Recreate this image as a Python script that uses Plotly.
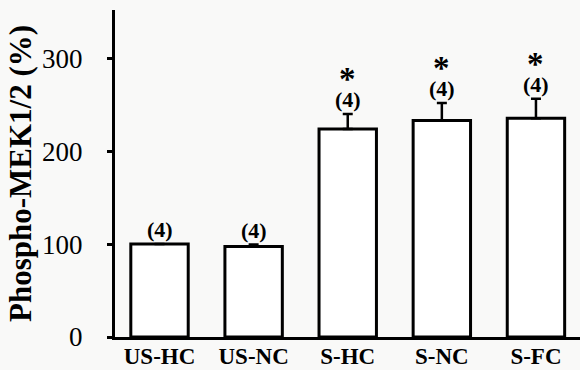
import plotly.graph_objects as go

categories = ["US-HC", "US-NC", "S-HC", "S-NC", "S-FC"]
values = [100, 97.5, 224, 233, 235.5]
errors = [0, 2, 16, 19, 21]
n_labels = ["(4)", "(4)", "(4)", "(4)", "(4)"]
significant = [False, False, True, True, True]
y_ticks = [0, 100, 200, 300]

FONT = "Liberation Serif"

fig = go.Figure()
fig.add_trace(go.Bar(
    x=categories, y=values, width=0.61,
    marker=dict(color="white", line=dict(color="black", width=3)),
    error_y=dict(type="data", symmetric=False, array=errors,
                 arrayminus=[0] * len(errors), color="black",
                 thickness=2.5, width=5),
    showlegend=False,
))

for c, v, e, lab, sig in zip(categories, values, errors, n_labels, significant):
    fig.add_annotation(x=c, y=v + e, text="<b>" + lab + "</b>", showarrow=False,
                       yanchor="bottom", yshift=0,
                       font=dict(family=FONT, size=22, color="black"))
    if sig:
        fig.add_annotation(x=c, y=v + e, text="<b>*</b>", showarrow=False,
                           yanchor="bottom", yshift=15,
                           font=dict(family=FONT, size=33, color="black"))

fig.update_layout(
    width=580, height=370,
    margin=dict(l=115, r=0, t=10, b=33),
    paper_bgcolor="#f9f9f8", plot_bgcolor="#f9f9f8",
    font=dict(family=FONT, color="black"),
)
fig.update_xaxes(
    range=[-0.473, 4.468], showline=True, linecolor="black", linewidth=3,
    ticks="", showgrid=False, zeroline=False, automargin=False,
    tickfont=dict(family=FONT, size=23, color="black"),
    ticklabelstandoff=-4,
    tickvals=categories, ticktext=["<b>" + c + "</b>" for c in categories],
)
fig.update_yaxes(
    range=[0, 352], showline=True, linecolor="black", linewidth=3,
    ticks="outside", ticklen=5, tickwidth=2.5, tickcolor="black",
    tickvals=y_ticks, showgrid=False, zeroline=False, automargin=False,
    tickfont=dict(family=FONT, size=27, color="black"),
    ticklabelstandoff=19,
    title=dict(text="<b>Phospho-MEK1/2 (%)</b>", standoff=2,
               font=dict(family=FONT, size=31, color="black")),
)

fig.write_html("out.html", config={"displayModeBar": False},
               post_script="document.body.style.margin='0';document.body.style.background='#f9f9f8';")
